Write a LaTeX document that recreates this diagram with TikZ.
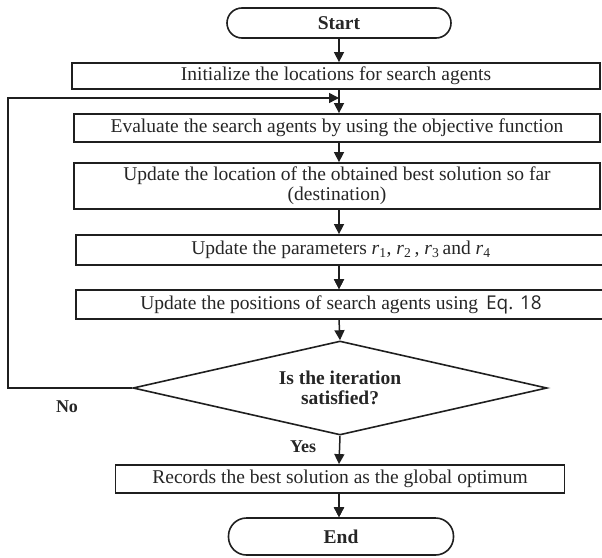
\documentclass[tikz,border=0pt]{standalone}
\usepackage{fontspec}
\setmainfont{Liberation Serif}
\newfontfamily\eqfont{Open Sans}
\usetikzlibrary{arrows.meta,shapes.geometric}

\begin{document}
\begin{tikzpicture}[x=1pt,y=1pt,
  every node/.style={text=black!85, font=\fontsize{19.5}{20}\selectfont},
  procbox/.style={draw=black!88, line width=1.8pt, rectangle, inner sep=0pt, align=center},
  termbox/.style={draw=black!88, line width=1.6pt, rectangle, rounded corners=15pt, inner sep=0pt,
    font=\fontsize{19.5}{20}\selectfont\bfseries},
  decision/.style={draw=black!88, line width=1.6pt, diamond, aspect=4.4, inner sep=0pt, align=center,
    font=\fontsize{19.5}{20}\selectfont\bfseries},
  tag/.style={font=\fontsize{18}{20}\selectfont\bfseries},
  link/.style={draw=black!88, line width=1.5pt},
  arr/.style={draw=black!88, line width=1.5pt, -{Triangle[length=10pt,width=10pt]}}
]
\useasboundingbox (0,0) rectangle (602,-557);

% main flow axis and loop corner
\coordinate (axis) at (339,0);
\coordinate (join) at (339,-98);
\coordinate (loopc) at (8,-98);

% terminal and process blocks
\node[termbox, minimum width=224pt, minimum height=30pt] (start) at (339,-23) {Start};
\node[procbox, minimum width=528pt, minimum height=26pt] (init) at (336,-76)
  {Initialize the locations for search agents};
\node[procbox, minimum width=526pt, minimum height=28pt] (evaluate) at (337,-128)
  {Evaluate the search agents by using the objective function};
\node[procbox, minimum width=526pt, minimum height=46pt] (dest) at (337,-186)
  {Update the location of the obtained best solution so far\\(destination)};
\node[procbox, minimum width=530pt, minimum height=30pt] (params) at (341,-250)
  {Update the parameters \textit{r}\textsubscript{1}, \textit{r}\textsubscript{2}\,, \textit{r}\textsubscript{3}\,and \textit{r}\textsubscript{4}};
\node[procbox, minimum width=530pt, minimum height=29pt] (posn) at (341,-304.5)
  {Update the positions of search agents using\hspace{8pt}{\eqfont\fontsize{19}{20}\selectfont Eq. 18}};
\node[decision, minimum width=414pt, minimum height=94pt] (cond) at (340,-388)
  {Is the iteration\\satisfied?};
\node[procbox, minimum width=449pt, minimum height=28pt] (record) at (340,-479)
  {Records the best solution as the global optimum};
\node[termbox, minimum width=225pt, minimum height=37pt, rounded corners=18pt] (finish) at (341,-536.5) {End};

% branch labels
\node[tag] (nolab) at (67,-407) {No};
\node[tag] (yeslab) at (303,-447) {Yes};

% main flow
\path (start.south -| axis) edge[arr] (init.north -| axis)
      (init.south -| axis) edge[arr] (evaluate.north -| axis)
      (evaluate.south -| axis) edge[arr] (dest.north -| axis)
      (dest.south -| axis) edge[arr] (params.north -| axis)
      (params.south -| axis) edge[arr] (posn.north -| axis)
      (posn.south -| axis) edge[arr] (cond.north)
      (cond.south) edge[arr] (record.north -| axis)
      (record.south -| axis) edge[arr] (finish.north -| axis);
\draw[arr] (params.south -| axis) -- (posn.north -| axis);
\draw[arr] (record.south -| axis) -- (finish.north -| axis);

% loop back when the iteration is not satisfied
\draw[arr] (cond.west) -| (loopc) -- (join);
\end{tikzpicture}
\end{document}
